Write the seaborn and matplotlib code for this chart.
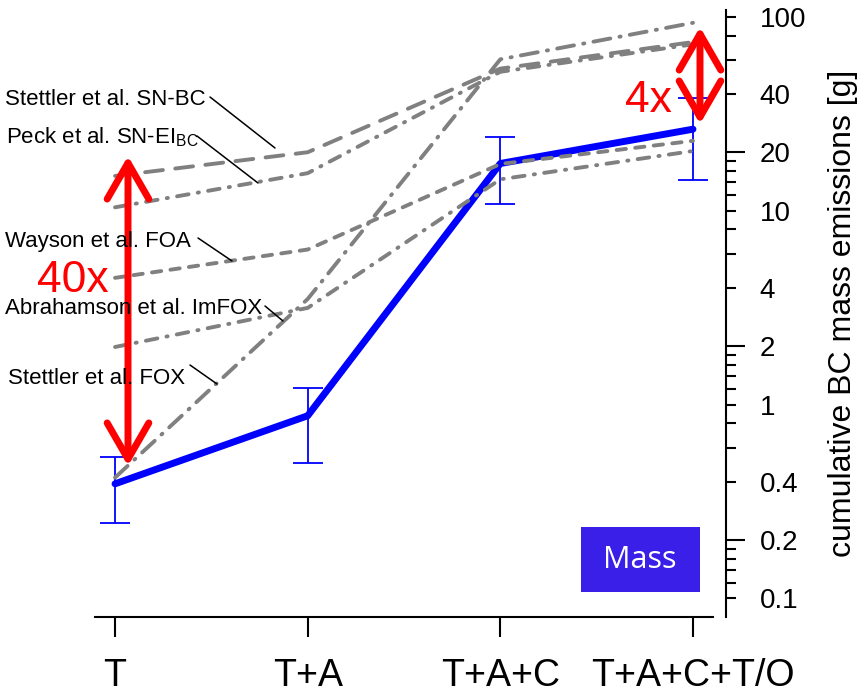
import numpy as np
import pandas as pd
import seaborn as sns
import matplotlib.pyplot as plt
from matplotlib.ticker import FixedLocator, FixedFormatter
from matplotlib.patches import Rectangle
from matplotlib.lines import Line2D

# categories on the x axis
categories = ["T", "T+A", "T+A+C", "T+A+C+T/O"]

# measured cumulative BC mass (g) with error range
mass = [0.39, 0.875, 17.5, 26.3]
mass_low = [0.244, 0.50, 10.8, 14.4]
mass_high = [0.538, 1.21, 23.9, 38.2]

# literature estimates (g)
stettler_snbc = [15.1, 20.0, 54.0, 74.0]
peck_snei = [10.4, 15.6, 52.0, 72.0]
wayson_foa = [4.5, 6.3, 17.4, 22.9]
abrahamson_imfox = [1.98, 3.15, 14.5, 20.3]
stettler_fox = [0.42, 3.5, 60.3, 93.0]

study_names = ["Stettler et al. SN-BC", "Peck et al. SN-EI", "Wayson et al. FOA",
               "Abrahamson et al. ImFOX", "Stettler et al. FOX"]

# y axis ticks (log scale, Origin style)
major_ticks = [0.2, 2, 20]
major_labels = ["0.2", "2", "20"]
minor_ticks = [0.1, 0.12, 0.14, 0.16, 0.18, 0.4, 0.6, 0.8,
               1, 1.2, 1.4, 1.6, 1.8, 4, 6, 8,
               10, 12, 14, 16, 18, 40, 60, 80, 100]
minor_labels = ["0.1", "", "", "", "", "0.4", "", "",
                "1", "", "", "", "", "4", "", "",
                "10", "", "", "", "", "40", "", "", "100"]

sns.set_style("ticks")
plt.rcParams['font.family'] = ['Liberation Sans', 'DejaVu Sans']
plt.rcParams['mathtext.default'] = 'regular'
plt.rcParams['text.color'] = 'black'
plt.rcParams['axes.labelcolor'] = 'black'
plt.rcParams['xtick.color'] = 'black'
plt.rcParams['ytick.color'] = 'black'

W, H = 860, 697
fig = plt.figure(figsize=(W / 100, H / 100), dpi=100)
ax = fig.add_axes([95 / W, 1 - 617 / H, (713 - 95) / W, (617 - 10) / H])
ax.set_yscale('log')


def fp(x, y):
    """figure pixel (from top-left) -> figure fraction"""
    return (x / W, 1 - y / H)


# long-form table of literature lines
series = [stettler_snbc, peck_snei, wayson_foa, abrahamson_imfox, stettler_fox]
rows = []
for name, vals in zip(study_names, series):
    for i, v in enumerate(vals):
        rows.append({"study": name, "pos": i, "value": v})
df = pd.DataFrame(rows)

dash_map = {
    "Stettler et al. SN-BC": (4.6, 3.2),
    "Peck et al. SN-EI": (3.0, 2.4, 0.3, 2.4),
    "Wayson et al. FOA": (2.4, 2.4),
    "Abrahamson et al. ImFOX": (3.0, 2.4, 0.3, 2.4),
    "Stettler et al. FOX": (4.4, 2.4, 0.3, 2.4),
}

# measured mass line + error bars
mass_df = pd.DataFrame({"pos": range(len(categories)), "value": mass})
sns.lineplot(data=mass_df, x="pos", y="value", color="#0000ff", linewidth=5,
             solid_capstyle='round', solid_joinstyle='round', ax=ax, zorder=2)
m = np.array(mass)
ax.errorbar(range(len(categories)), m,
            yerr=[m - np.array(mass_low), np.array(mass_high) - m],
            fmt='none', ecolor='#0000ff', elinewidth=1.3, capsize=10.8,
            capthick=1.3, zorder=2)

sns.lineplot(data=df, x="pos", y="value", style="study", dashes=dash_map,
             color="#808080", linewidth=2.8, dash_capstyle='round',
             legend=False, ax=ax, zorder=3)

# axes styling
ax.set_xlim(-0.104, 3.104)
ax.set_ylim(0.0802, 108.3)
ax.set_xticks(range(len(categories)))
ax.set_xticklabels(categories, fontsize=27)
ax.set_xlabel("")
ax.yaxis.tick_right()
ax.yaxis.set_label_position('right')
ax.spines['left'].set_visible(False)
ax.spines['top'].set_visible(False)
ax.spines['right'].set_position(('outward', 9.4))
for s in ['bottom', 'right']:
    ax.spines[s].set_linewidth(1.5)
    ax.spines[s].set_color('black')
ax.yaxis.set_major_locator(FixedLocator(major_ticks))
ax.yaxis.set_major_formatter(FixedFormatter(major_labels))
ax.yaxis.set_minor_locator(FixedLocator(minor_ticks))
ax.yaxis.set_minor_formatter(FixedFormatter(minor_labels))
ax.tick_params(axis='y', which='major', length=14, width=1.5, pad=10,
               labelsize=20, colors='black')
ax.tick_params(axis='y', which='minor', length=7, width=1.5, pad=17,
               labelsize=20, colors='black')
ax.tick_params(axis='x', length=14.4, width=1.5, pad=15, colors='black')
ax.set_ylabel("cumulative BC mass emissions [g]", fontsize=23, rotation=90,
              color='black')
ax.yaxis.label.set_va('center')
ax.yaxis.label.set_ha('center')
ax.yaxis.set_label_coords(1.21, 0.5)

# study labels with leader lines
label_text = ["Stettler et al. SN-BC", "Peck et al. SN-EI$_{BC}$", "Wayson et al. FOA",
              "Abrahamson et al. ImFOX", "Stettler et al. FOX"]
label_pos = [(5, 105), (6, 143), (5, 247), (5, 314), (8, 384)]
leaders = [((210, 97), (275, 148)), ((197, 136), (258, 183)),
           ((198, 238), (232, 261)), ((265, 306), (283, 321)),
           ((190, 365), (217, 384))]
for txt, (tx, ty), (p0, p1) in zip(label_text, label_pos, leaders):
    fig.text(*fp(tx, ty), txt, fontsize=16, color='black', ha='left',
             va='baseline', zorder=5)
    a, b = fp(*p0), fp(*p1)
    fig.add_artist(Line2D([a[0], b[0]], [a[1], b[1]], color='black', lw=1.1,
                          transform=fig.transFigure, zorder=5))

# red ratio arrows
arrow_kw = dict(arrowstyle='<->, head_length=1.3, head_width=0.75', color='#ff0000',
                lw=5, shrinkA=0, shrinkB=0, mutation_scale=20,
                capstyle='round', joinstyle='round')
ax.annotate("", xy=fp(128, 156), xycoords='figure fraction',
            xytext=fp(128, 466), textcoords='figure fraction',
            arrowprops=arrow_kw, zorder=6)
ax.annotate("", xy=fp(700, 27), xycoords='figure fraction',
            xytext=fp(700, 124), textcoords='figure fraction',
            arrowprops=arrow_kw, zorder=6)
fig.text(*fp(37, 292), "40x", color='#ff0000', fontsize=32, ha='left', va='baseline')
fig.text(*fp(625, 112), "4x", color='#ff0000', fontsize=32, ha='left', va='baseline')

# "Mass" tag
x0, y0 = fp(581, 592)
fig.add_artist(Rectangle((x0, y0), (700 - 581) / W, (592 - 527) / H,
                         transform=fig.transFigure, facecolor='#3a1fe8',
                         edgecolor='none', zorder=4))
fig.text(*fp(640, 560), "Mass", color='white', fontsize=22, ha='center', va='center',
         family=['Open Sans', 'DejaVu Sans'], zorder=5)

fig.savefig("out.png", dpi=100)
